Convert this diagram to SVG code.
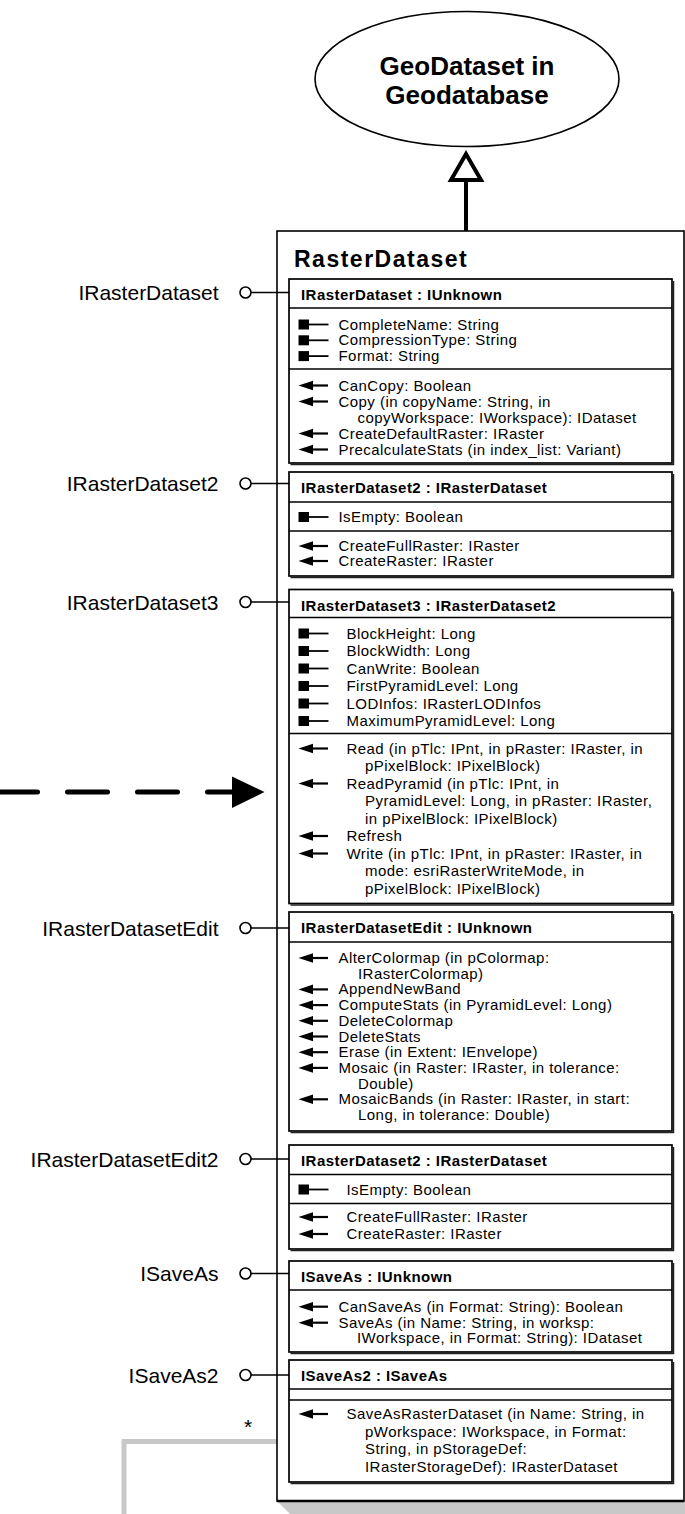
<svg xmlns="http://www.w3.org/2000/svg" xmlns:xlink="http://www.w3.org/1999/xlink" width="685" height="1514" viewBox="0 0 685 1514">
<style>
text{font-family:"Liberation Sans",Arial,sans-serif;fill:#000}
.t{font-size:15px;letter-spacing:0.45px}
.h{font-size:15px;font-weight:bold;letter-spacing:0.45px}
.lbl{font-size:21px;text-anchor:end}
.ttl{font-size:23px;font-weight:bold;letter-spacing:1.5px}
.geo{font-size:26px;font-weight:bold;text-anchor:middle}
.ib{fill:#fff;stroke:#000;stroke-width:1.7}
.ibs{fill:none;stroke:#222;stroke-width:1.5}
.dv{stroke:#000;stroke-width:1.6}
.lp{fill:#fff;stroke:#000;stroke-width:1.6}
.lpl{stroke:#000;stroke-width:1.6}
</style>
<defs>
<g id="prop"><rect x="298.5" y="-5" width="10.5" height="10" fill="#000"/><line x1="308" y1="0" x2="328.5" y2="0" stroke="#000" stroke-width="1.8"/></g>
<g id="meth"><polygon points="298.5,0 313,-4.8 313,4.8" fill="#000"/><line x1="312" y1="0" x2="328" y2="0" stroke="#000" stroke-width="2.2"/></g>
</defs>

<g id="connectors">
<line x1="466" y1="180" x2="466" y2="231" stroke="#000" stroke-width="4"/>
<polygon points="466,154 451,180 481,180" fill="#fff" stroke="#000" stroke-width="4"/>
<line x1="-2.5" y1="792" x2="238" y2="792" stroke="#000" stroke-width="5" stroke-linecap="round" stroke-dasharray="40 30"/>
<polygon points="232,776.5 264.5,792 232,808" fill="#000"/>
<polyline points="277,1441.5 124,1441.5 124,1516" fill="none" stroke="#c8c8c8" stroke-width="5"/>
<polygon points="480,1502 471.5,1516 488.5,1516" fill="#000"/>
</g>

<g id="node-geodataset">
<ellipse cx="467" cy="79" rx="152" ry="67.5" fill="#fff" stroke="#000" stroke-width="1.6"/>
<text class="geo" x="467" y="75">GeoDataset in</text>
<text class="geo" x="467" y="104">Geodatabase</text>
</g>

<g id="node-rasterdataset">
<polygon points="277,1501 697,1501 697,1514 290,1514" fill="#c8c8c8"/>
<rect x="277" y="231" width="407" height="1270" fill="#fff" stroke="#000" stroke-width="1.6"/>
<line x1="277" y1="1501" x2="684" y2="1501" stroke="#000" stroke-width="2.5"/>
<text class="ttl" x="294" y="267">RasterDataset</text>
</g>

<g id="if-irasterdataset">
<text class="lbl" x="218.5" y="300">IRasterDataset</text>
<line class="lpl" x1="251" y1="292.5" x2="289" y2="292.5"/>
<circle class="lp" cx="245.5" cy="292.5" r="5.5"/>
<rect class="ib" x="289" y="279" width="383" height="184"/>
<path class="ibs" d="M673.5 281 V464.5 H290.5"/>
<line class="dv" x1="289" y1="308" x2="672" y2="308"/>
<line class="dv" x1="289" y1="369" x2="672" y2="369"/>
<text class="h" x="301" y="300">IRasterDataset : IUnknown</text>
<use xlink:href="#prop" y="324.5"/><text class="t" x="338.5" y="329.5">CompleteName: String</text>
<use xlink:href="#prop" y="340.3"/><text class="t" x="338.5" y="345.3">CompressionType: String</text>
<use xlink:href="#prop" y="356.1"/><text class="t" x="338.5" y="361.1">Format: String</text>
<use xlink:href="#meth" y="385.5"/><text class="t" x="338.5" y="390.5">CanCopy: Boolean</text>
<use xlink:href="#meth" y="401.5"/><text class="t" x="338.5" y="406.5">Copy (in copyName: String, in</text>
<text class="t" x="357.5" y="422.5">copyWorkspace: IWorkspace): IDataset</text>
<use xlink:href="#meth" y="433.5"/><text class="t" x="338.5" y="438.5">CreateDefaultRaster: IRaster</text>
<use xlink:href="#meth" y="449.5"/><text class="t" x="338.5" y="454.5">PrecalculateStats (in index_list: Variant)</text>
</g>

<g id="if-irasterdataset2">
<text class="lbl" x="218.5" y="491">IRasterDataset2</text>
<line class="lpl" x1="251" y1="483.5" x2="289" y2="483.5"/>
<circle class="lp" cx="245.5" cy="483.5" r="5.5"/>
<rect class="ib" x="289" y="472" width="383" height="104"/>
<path class="ibs" d="M673.5 474 V577.5 H290.5"/>
<line class="dv" x1="289" y1="502" x2="672" y2="502"/>
<line class="dv" x1="289" y1="531" x2="672" y2="531"/>
<text class="h" x="301" y="493">IRasterDataset2 : IRasterDataset</text>
<use xlink:href="#prop" y="517"/><text class="t" x="338.5" y="522">IsEmpty: Boolean</text>
<use xlink:href="#meth" y="546"/><text class="t" x="338.5" y="551">CreateFullRaster: IRaster</text>
<use xlink:href="#meth" y="561"/><text class="t" x="338.5" y="566">CreateRaster: IRaster</text>
</g>

<g id="if-irasterdataset3">
<text class="lbl" x="218.5" y="609.5">IRasterDataset3</text>
<line class="lpl" x1="251" y1="602" x2="289" y2="602"/>
<circle class="lp" cx="245.5" cy="602" r="5.5"/>
<rect class="ib" x="289" y="589.5" width="383" height="314"/>
<path class="ibs" d="M673.5 591.5 V905 H290.5"/>
<line class="dv" x1="289" y1="617.5" x2="672" y2="617.5"/>
<line class="dv" x1="289" y1="733.5" x2="672" y2="733.5"/>
<text class="h" x="301" y="610.5">IRasterDataset3 : IRasterDataset2</text>
<use xlink:href="#prop" y="633.5"/><text class="t" x="346.5" y="638.5">BlockHeight: Long</text>
<use xlink:href="#prop" y="651"/><text class="t" x="346.5" y="656">BlockWidth: Long</text>
<use xlink:href="#prop" y="668.5"/><text class="t" x="346.5" y="673.5">CanWrite: Boolean</text>
<use xlink:href="#prop" y="686"/><text class="t" x="346.5" y="691">FirstPyramidLevel: Long</text>
<use xlink:href="#prop" y="703.5"/><text class="t" x="346.5" y="708.5">LODInfos: IRasterLODInfos</text>
<use xlink:href="#prop" y="721"/><text class="t" x="346.5" y="726">MaximumPyramidLevel: Long</text>
<use xlink:href="#meth" y="748.5"/><text class="t" x="346.5" y="753.5">Read (in pTlc: IPnt, in pRaster: IRaster, in</text>
<text class="t" x="365" y="771">pPixelBlock: IPixelBlock)</text>
<use xlink:href="#meth" y="783.5"/><text class="t" x="346.5" y="788.5">ReadPyramid (in pTlc: IPnt, in</text>
<text class="t" x="365" y="806">PyramidLevel: Long, in pRaster: IRaster,</text>
<text class="t" x="365" y="823.5">in pPixelBlock: IPixelBlock)</text>
<use xlink:href="#meth" y="836"/><text class="t" x="346.5" y="841">Refresh</text>
<use xlink:href="#meth" y="853.5"/><text class="t" x="346.5" y="858.5">Write (in pTlc: IPnt, in pRaster: IRaster, in</text>
<text class="t" x="365" y="876">mode: esriRasterWriteMode, in</text>
<text class="t" x="365" y="893.5">pPixelBlock: IPixelBlock)</text>
</g>

<g id="if-irasterdatasetedit">
<text class="lbl" x="218.5" y="935.5">IRasterDatasetEdit</text>
<line class="lpl" x1="251" y1="928" x2="289" y2="928"/>
<circle class="lp" cx="245.5" cy="928" r="5.5"/>
<rect class="ib" x="289" y="912" width="383" height="219"/>
<path class="ibs" d="M673.5 914 V1132.5 H290.5"/>
<line class="dv" x1="289" y1="942" x2="672" y2="942"/>
<text class="h" x="301" y="933">IRasterDatasetEdit : IUnknown</text>
<use xlink:href="#meth" y="958"/><text class="t" x="338.5" y="963">AlterColormap (in pColormap:</text>
<text class="t" x="358" y="978.7">IRasterColormap)</text>
<use xlink:href="#meth" y="989.4"/><text class="t" x="338.5" y="994.4">AppendNewBand</text>
<use xlink:href="#meth" y="1005.1"/><text class="t" x="338.5" y="1010.1">ComputeStats (in PyramidLevel: Long)</text>
<use xlink:href="#meth" y="1020.8"/><text class="t" x="338.5" y="1025.8">DeleteColormap</text>
<use xlink:href="#meth" y="1036.5"/><text class="t" x="338.5" y="1041.5">DeleteStats</text>
<use xlink:href="#meth" y="1052.2"/><text class="t" x="338.5" y="1057.2">Erase (in Extent: IEnvelope)</text>
<use xlink:href="#meth" y="1067.9"/><text class="t" x="338.5" y="1072.9">Mosaic (in Raster: IRaster, in tolerance:</text>
<text class="t" x="358" y="1088.6">Double)</text>
<use xlink:href="#meth" y="1099.3"/><text class="t" x="338.5" y="1104.3">MosaicBands (in Raster: IRaster, in start:</text>
<text class="t" x="358" y="1120">Long, in tolerance: Double)</text>
</g>

<g id="if-irasterdatasetedit2">
<text class="lbl" x="218.5" y="1166.5">IRasterDatasetEdit2</text>
<line class="lpl" x1="251" y1="1159" x2="289" y2="1159"/>
<circle class="lp" cx="245.5" cy="1159" r="5.5"/>
<rect class="ib" x="289" y="1145" width="383" height="104"/>
<path class="ibs" d="M673.5 1147 V1250.5 H290.5"/>
<line class="dv" x1="289" y1="1174.5" x2="672" y2="1174.5"/>
<line class="dv" x1="289" y1="1203.5" x2="672" y2="1203.5"/>
<text class="h" x="301" y="1166">IRasterDataset2 : IRasterDataset</text>
<use xlink:href="#prop" y="1189.5"/><text class="t" x="346.5" y="1194.5">IsEmpty: Boolean</text>
<use xlink:href="#meth" y="1217"/><text class="t" x="346.5" y="1222">CreateFullRaster: IRaster</text>
<use xlink:href="#meth" y="1234"/><text class="t" x="346.5" y="1239">CreateRaster: IRaster</text>
</g>

<g id="if-isaveas">
<text class="lbl" x="218.5" y="1281">ISaveAs</text>
<line class="lpl" x1="251" y1="1273.5" x2="289" y2="1273.5"/>
<circle class="lp" cx="245.5" cy="1273.5" r="5.5"/>
<rect class="ib" x="289" y="1261" width="383" height="91"/>
<path class="ibs" d="M673.5 1263 V1353.5 H290.5"/>
<line class="dv" x1="289" y1="1290" x2="672" y2="1290"/>
<text class="h" x="301" y="1282">ISaveAs : IUnknown</text>
<use xlink:href="#meth" y="1306.7"/><text class="t" x="338.5" y="1311.7">CanSaveAs (in Format: String): Boolean</text>
<use xlink:href="#meth" y="1322.7"/><text class="t" x="338.5" y="1327.7">SaveAs (in Name: String, in worksp:</text>
<text class="t" x="357" y="1343.3">IWorkspace, in Format: String): IDataset</text>
</g>

<g id="if-isaveas2">
<text class="lbl" x="218.5" y="1382.5">ISaveAs2</text>
<line class="lpl" x1="251" y1="1375" x2="289" y2="1375"/>
<circle class="lp" cx="245.5" cy="1375" r="5.5"/>
<rect class="ib" x="289" y="1360" width="383" height="122"/>
<path class="ibs" d="M673.5 1362 V1483.5 H290.5"/>
<line class="dv" x1="289" y1="1389" x2="672" y2="1389"/>
<line class="dv" x1="289" y1="1400" x2="672" y2="1400"/>
<text class="h" x="301" y="1381">ISaveAs2 : ISaveAs</text>
<use xlink:href="#meth" y="1414"/><text class="t" x="346.5" y="1419">SaveAsRasterDataset (in Name: String, in</text>
<text class="t" x="365" y="1436.7">pWorkspace: IWorkspace, in Format:</text>
<text class="t" x="365" y="1454.3">String, in pStorageDef:</text>
<text class="t" x="365" y="1472">IRasterStorageDef): IRasterDataset</text>
</g>

<g id="multiplicity">
<text x="248" y="1434" style="font-size:21px;text-anchor:middle">*</text>
</g>
</svg>
